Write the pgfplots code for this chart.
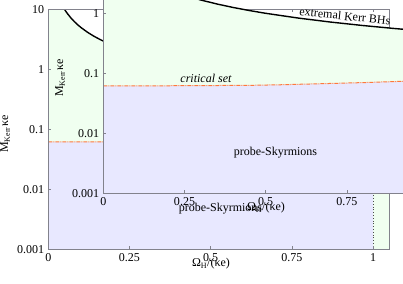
\documentclass[border=0pt]{standalone}
\usepackage{fontspec}
\setmainfont{Liberation Serif}
\usepackage{pgfplots}
\pgfplotsset{compat=1.18}
\definecolor{skygreen}{RGB}{240,255,240}
\definecolor{skyblue}{RGB}{232,232,255}
\definecolor{critcol}{RGB}{255,120,60}
\definecolor{framecol}{RGB}{130,130,140}

\pgfplotsset{
 kerrbase/.style={
  width=340.7pt, height=240pt, scale only axis,
  xmin=0, xmax=1.049, ymin=0.001, ymax=10,
  xtick={0,0.25,0.5,0.75,1}, xticklabels={0,0.25,0.5,0.75,1},
  ytick={0.001,0.01,0.1,1,10}, yticklabels={0.001,0.01,0.1,1,10},
  yminorticks=false, xminorticks=false,
  tick align=inside, major tick length=3pt,
  axis line style={framecol, line width=0.8pt}, every tick/.style={framecol},
  axis on top,
  tick label style={font=\fontsize{12}{14}\selectfont},
  label style={font=\fontsize{12}{14}\selectfont},
  xlabel={Ω\textsubscript{H}/(κe)},
  ylabel={M\textsubscript{Kerr}κe},
  xlabel style={at={(axis description cs:0.4775,-0.0725)}, anchor=base},
  ylabel style={at={(axis description cs:-0.127,0.48)}, anchor=center},
 }
}

\newcommand\kerrplots{%
  \addplot[fill=skygreen, draw=none] coordinates {
   (0,10) (0.05,10) (0.055,9.091) (0.06,8.333) (0.07,7.143) (0.08,6.25)
   (0.09,5.556) (0.1,5) (0.12,4.167) (0.14,3.571) (0.16,3.125) (0.18,2.778)
   (0.2,2.5) (0.25,2) (0.3,1.667) (0.35,1.429) (0.4,1.25) (0.45,1.111)
   (0.5,1) (0.6,0.8333) (0.7,0.7143) (0.8,0.625) (0.9,0.5556) (1.0,0.5)
   (1.049,0.4766) (1.049,0.001) (0,0.001)} -- cycle;
  \addplot[fill=skyblue, draw=none] coordinates {
   (0,0.001) (0,0.062) (0.2,0.062) (0.45,0.063) (0.55,0.0645) (0.667,0.067)
   (0.8,0.070) (0.923,0.0736) (1,0.076) (1,0.001)} -- cycle;
  \addplot[critcol, line width=1pt, dash pattern=on 4pt off 1pt on 1pt off 1pt] coordinates {
   (0,0.062) (0.2,0.062) (0.45,0.063) (0.55,0.0645) (0.667,0.067)
   (0.8,0.070) (0.923,0.0736) (1,0.076)};
  \addplot[black!70, dotted, line width=0.8pt] coordinates {(1,0.001) (1,0.076)};
  \addplot[black, line width=1.4pt] coordinates {
   (0.05,10) (0.055,9.091) (0.06,8.333) (0.07,7.143) (0.08,6.25)
   (0.09,5.556) (0.1,5) (0.12,4.167) (0.14,3.571) (0.16,3.125) (0.18,2.778)
   (0.2,2.5) (0.25,2) (0.3,1.667) (0.35,1.429) (0.4,1.25) (0.45,1.111)
   (0.5,1) (0.6,0.8333) (0.7,0.7143) (0.8,0.625) (0.9,0.5556) (1.0,0.5)
   (1.049,0.4766)};
  \node[font=\fontsize{12}{14}\selectfont] at (axis cs:0.53,0.0048) {probe-Skyrmions};
}

\begin{document}
\fontsize{12}{14}\selectfont
\begin{tikzpicture}
\useasboundingbox (0,0) rectangle (403pt,283pt);
\begin{semilogyaxis}[kerrbase, at={(48.3pt,33.7pt)}, anchor=south west]
  \kerrplots
\end{semilogyaxis}
\begin{semilogyaxis}[kerrbase, at={(103.3pt,89.7pt)}, anchor=south west]
  \kerrplots
  \node[font=\fontsize{12}{14}\selectfont\itshape] at (axis cs:0.316,0.083) {critical set};
  \node[font=\fontsize{12}{14}\selectfont, rotate=-6] at (axis cs:0.744,0.90) {extremal Kerr BHs};
\end{semilogyaxis}
\end{tikzpicture}
\end{document}
